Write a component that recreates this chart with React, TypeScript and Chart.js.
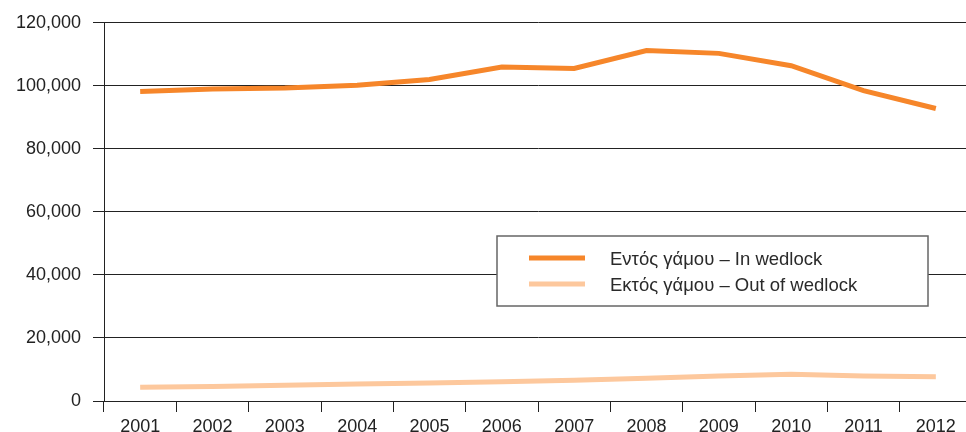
import React, { useEffect, useRef } from "react";
import { Chart, registerables } from "chart.js";

Chart.register(...registerables);

const years = ["2001", "2002", "2003", "2004", "2005", "2006", "2007", "2008", "2009", "2010", "2011", "2012"];
const inWedlock = [98200, 99000, 99300, 100200, 102000, 106000, 105500, 111200, 110300, 106400, 98500, 92800];
const outOfWedlock = [4400, 4600, 5000, 5400, 5700, 6100, 6600, 7200, 7900, 8500, 7900, 7700];
const seriesLabels = ["Εντός γάμου – In wedlock", "Εκτός γάμου – Out of wedlock"];
const seriesColors = ["#f6862a", "#fdc89d"];

const FONT = "'Liberation Sans', Arial, Helvetica, sans-serif";
const INK = "#222222";

const boxLegend = {
  id: "boxLegend",
  afterDraw(chart: any) {
    const ctx = chart.ctx as CanvasRenderingContext2D;
    const x0 = 497, y0 = 236, w = 431, h = 70;
    ctx.save();
    ctx.fillStyle = "#ffffff";
    ctx.fillRect(x0, y0, w, h);
    ctx.strokeStyle = "#666666";
    ctx.lineWidth = 1.5;
    ctx.strokeRect(x0, y0, w, h);
    const rows = [258, 284];
    chart.data.datasets.forEach((ds: any, i: number) => {
      const y = rows[i];
      ctx.strokeStyle = ds.borderColor;
      ctx.lineWidth = 5;
      ctx.lineCap = "butt";
      ctx.beginPath();
      ctx.moveTo(529, y);
      ctx.lineTo(585, y);
      ctx.stroke();
      ctx.fillStyle = "#2a2a2a";
      ctx.font = `18.5px ${FONT}`;
      ctx.textBaseline = "alphabetic";
      ctx.textAlign = "left";
      ctx.fillText(ds.label, 610, y + 7);
    });
    ctx.restore();
  },
};

export default function App() {
  const ref = useRef<HTMLCanvasElement | null>(null);

  useEffect(() => {
    document.body.style.margin = "0";
    document.body.style.overflow = "hidden";
    if (!ref.current) return;
    const chart = new Chart(ref.current, {
      type: "line",
      data: {
        labels: years,
        datasets: [
          {
            label: seriesLabels[0],
            data: inWedlock,
            borderColor: seriesColors[0],
            backgroundColor: seriesColors[0],
            borderWidth: 5,
            pointRadius: 0,
            tension: 0,
          },
          {
            label: seriesLabels[1],
            data: outOfWedlock,
            borderColor: seriesColors[1],
            backgroundColor: seriesColors[1],
            borderWidth: 5,
            pointRadius: 0,
            tension: 0,
          },
        ],
      },
      options: {
        animation: false,
        responsive: true,
        maintainAspectRatio: false,
        layout: { padding: { top: 22, right: 4, left: 0, bottom: 0 } },
        plugins: {
          legend: { display: false },
          tooltip: { enabled: false },
        },
        scales: {
          x: {
            offset: true,
            grid: {
              offset: true,
              drawOnChartArea: false,
              drawTicks: true,
              tickLength: 11,
              color: INK,
              lineWidth: 1,
            },
            border: { display: true, color: INK, width: 1 },
            ticks: {
              color: INK,
              font: { family: FONT, size: 18 },
              padding: 4,
              maxRotation: 0,
            },
            afterFit: (s: any) => {
              s.height = 31;
            },
          },
          y: {
            min: 0,
            max: 120000,
            ticks: {
              stepSize: 20000,
              color: INK,
              font: { family: FONT, size: 18 },
              padding: 12,
              callback: (v: any) => Number(v).toLocaleString("en-US"),
            },
            grid: {
              color: INK,
              lineWidth: 1,
              drawTicks: true,
              tickLength: 11,
            },
            border: { display: true, color: INK, width: 1 },
            afterFit: (s: any) => {
              s.width = 104;
            },
          },
        },
      },
      plugins: [boxLegend],
    });
    return () => chart.destroy();
  }, []);

  return (
    <div style={{ position: "absolute", left: 0, top: 0, width: 976, height: 432 }}>
      <canvas ref={ref} />
    </div>
  );
}
